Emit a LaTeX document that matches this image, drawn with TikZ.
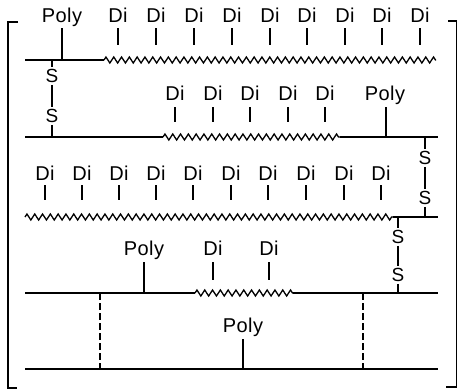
\documentclass[tikz,border=0pt]{standalone}
\usepackage{fontspec}
\setmainfont{Liberation Sans}[LetterSpace=2]
\usetikzlibrary{decorations.pathmorphing,calc}
\begin{document}
\begin{tikzpicture}[x=1pt,y=-1pt,line width=1.3pt,
  lbl/.style={font=\fontsize{20}{20}\selectfont,inner sep=0pt,anchor=base},
  sl/.style={font=\fontsize{19}{19}\selectfont,inner sep=1.5pt},
  tk/.style={line width=1.1pt},
  zz/.style={decorate,decoration={zigzag,segment length=7.8pt,amplitude=3pt}},
  dsh/.style={dash pattern=on 7pt off 3pt}]
\useasboundingbox (0,0) rectangle (458,391);
% brackets
\draw[line width=1.3pt] (18,22) -- (8,22) -- (8,388) -- (17,388);
\draw[line width=1.3pt] (448,21) -- (456.5,21) -- (456.5,387) -- (446,387);
% line 1
\coordinate (l1a) at (25,60); \coordinate (l1b) at (104,60); \coordinate (l1c) at (436,60);
\draw (l1a) -- (l1b);
\draw[zz] (l1b) -- (l1c);
\node[lbl] (p1) at (62,22) {Poly};
\coordinate (p1t) at (62,60);
\draw ($(p1.base)+(0,6)$) -- (p1t);
\foreach \i/\x in {1/118,2/156,3/194,4/232,5/270,6/307,7/345,8/382,9/420}{
  \node[lbl] (a\i) at (\x,22) {Di};
  \draw[tk] ($(a\i.base)+(0,6)$) -- ++(0,17);
}
% S-S link 1
\node[sl] (s1a) at (52,76) {S};
\node[sl] (s1b) at (52,116) {S};
\coordinate (s1t) at (52,60); \coordinate (s1u) at (52,137);
\draw (s1t) -- (s1a); \draw (s1a) -- (s1b); \draw (s1b) -- (s1u);
% line 2
\coordinate (l2a) at (25,137); \coordinate (l2b) at (163,137); \coordinate (l2c) at (340,137); \coordinate (l2d) at (438,137);
\draw (l2a) -- (l2b);
\draw[zz] (l2b) -- (l2c);
\draw (l2c) -- (l2d);
\node[lbl] (p2) at (385,100) {Poly};
\coordinate (p2t) at (386,137);
\draw ($(p2.base)+(1,7)$) -- (p2t);
\foreach \i/\x in {1/175,2/213,3/250,4/288,5/325}{
  \node[lbl] (b\i) at (\x,100) {Di};
  \draw[tk] ($(b\i.base)+(0,7)$) -- ++(0,15);
}
% S-S link 2
\node[sl] (s2a) at (425,158) {S};
\node[sl] (s2b) at (425,198) {S};
\coordinate (s2t) at (425,137); \coordinate (s2u) at (425,217);
\draw (s2t) -- (s2a); \draw (s2a) -- (s2b); \draw (s2b) -- (s2u);
% line 3
\coordinate (l3a) at (25,217); \coordinate (l3b) at (393,217); \coordinate (l3c) at (438,217);
\draw[zz] (l3a) -- (l3b);
\draw (l3b) -- (l3c);
\foreach \i/\x in {1/45,2/82,3/119,4/156,5/193,6/231,7/268,8/306,9/344,10/381}{
  \node[lbl] (c\i) at (\x,180) {Di};
  \draw[tk] ($(c\i.base)+(0,5)$) -- ++(0,15);
}
% S-S link 3
\node[sl] (s3a) at (398,237) {S};
\node[sl] (s3b) at (398,275) {S};
\coordinate (s3t) at (398,217); \coordinate (s3u) at (398,293);
\draw (s3t) -- (s3a); \draw (s3a) -- (s3b); \draw (s3b) -- (s3u);
% line 4
\coordinate (l4a) at (25,293); \coordinate (l4b) at (195,293); \coordinate (l4c) at (293,293); \coordinate (l4d) at (438,293);
\draw (l4a) -- (l4b);
\draw[zz] (l4b) -- (l4c);
\draw (l4c) -- (l4d);
\node[lbl] (p4) at (144,255) {Poly};
\coordinate (p4t) at (144,293);
\draw ($(p4.base)+(0,7)$) -- (p4t);
\foreach \i/\x in {1/213,2/269}{
  \node[lbl] (e\i) at (\x,255) {Di};
  \draw[tk] ($(e\i.base)+(0,7)$) -- ++(0,18);
}
% line 5
\coordinate (l5a) at (25,369); \coordinate (l5b) at (438,369);
\draw (l5a) -- (l5b);
\node[lbl] (p5) at (243,332) {Poly};
\coordinate (p5t) at (243,369);
\draw ($(p5.base)+(0,7)$) -- (p5t);
% dashed links
\coordinate (d1a) at (100,293); \coordinate (d1b) at (100,369);
\coordinate (d2a) at (363,293); \coordinate (d2b) at (363,369);
\draw[dsh] (d1a) -- (d1b);
\draw[dsh] (d2a) -- (d2b);
\end{tikzpicture}
\end{document}
